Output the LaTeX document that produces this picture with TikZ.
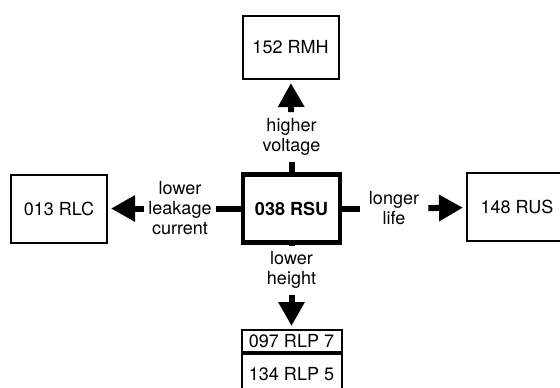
\documentclass[tikz,border=0pt]{standalone}
\usepackage{fontspec}
\setmainfont{TeX Gyre Heros}
\usetikzlibrary{arrows.meta,positioning}
\tikzset{
  part/.style={draw,line width=1pt,minimum width=48pt,minimum height=34pt,inner sep=2pt,font=\fontsize{9}{10}\selectfont},
  core/.style={part,line width=2.4pt,minimum width=48.5pt,font=\fontsize{9}{10}\selectfont\bfseries},
  why/.style={align=center,font=\fontsize{9}{10}\selectfont,inner xsep=2pt,inner ysep=3pt},
  bar/.style={line width=3pt},
  push/.style={bar,-{Triangle[length=12pt,width=12.5pt]},shorten >=1.5pt}
}

\begin{document}
\begin{tikzpicture}[x=0.5pt,y=-0.5pt]
\clip (0,0) rectangle (560,387);
% parts
\node[part,minimum height=31.5pt] (rmh) at (290.5,47.5) {152 RMH};
\node[core] (rsu) at (291.5,208.5) {038 RSU};
\node[part] (rlc) at (59,208.5) {013 RLC};
\node[part,minimum width=50pt] (rus) at (517,207) {148 RUS};
\node[part,anchor=north,minimum width=50pt,minimum height=11pt] (rlp7) at (291.5,329) {097 RLP 7};
\node[part,anchor=north,minimum width=50pt,minimum height=20pt] (rlp5) at (rlp7.south) {134 RLP 5};
% reasons
\node[why] (up) at (291.5,137) {higher\\voltage};
\node[why] (lt) at (180,208.5) {lower\\leakage\\current};
\node[why,inner xsep=4.5pt] (rt) at (394,208.5) {longer\\life};
\node[why] (dn) at (291.5,270) {lower\\height};
\draw[bar] (rsu) -- (up);
\draw[push] (up) -- (rmh);
\draw[bar] (rsu) -- (lt);
\draw[push] (lt) -- (rlc);
\draw[bar] (rsu) -- (rt);
\draw[push] (rt) -- (rus);
\draw[bar] (rsu) -- (dn);
\draw[push] (dn) -- (rlp7);
\end{tikzpicture}
\end{document}
